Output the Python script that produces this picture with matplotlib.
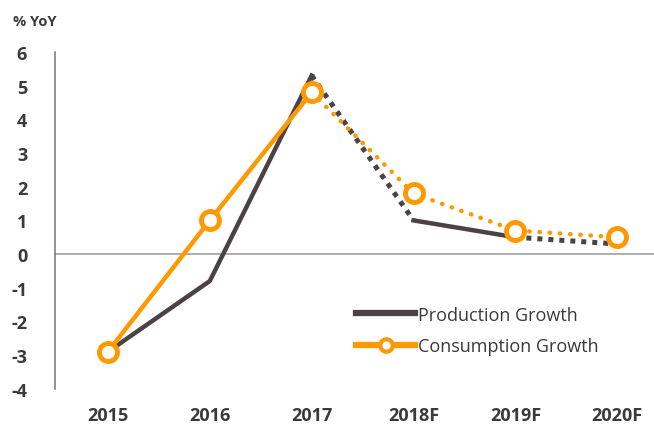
import matplotlib.pyplot as plt
from matplotlib.lines import Line2D

# datos
years = ["2015", "2016", "2017", "2018F", "2019F", "2020F"]
production = [-2.9, -0.8, 5.3, 1.0, 0.5, 0.3]
consumption = [-2.9, 1.0, 4.8, 1.8, 0.7, 0.5]

# tramos (inicio, fin, estilo)
prod_segs = [(0, 2, "solid"), (2, 3, "dotted"), (3, 4, "solid"), (4, 5, "dotted")]
cons_segs = [(0, 2, "solid"), (2, 5, "dotted")]

c_prod = "#4a4244"
c_cons = "#ff9900"
c_text = "#3a3a3a"

plt.rcParams['font.family'] = ['Open Sans', 'DejaVu Sans']
plt.rcParams['axes.unicode_minus'] = False

fig = plt.figure(figsize=(6.54, 4.27), dpi=100)
ax = fig.add_axes([0.084, 0.087, 0.93, 0.789])

x = list(range(len(years)))

ax.axhline(0, color="#a0a0a0", lw=1.2, zorder=1)

for a, b, ls in prod_segs:
    if ls == "dotted":
        ax.plot(x[a:b+1], production[a:b+1], color=c_prod, lw=3.6,
                linestyle=(0, (1, 1.2)), dash_capstyle="butt", zorder=2)
    else:
        ax.plot(x[a:b+1], production[a:b+1], color=c_prod, lw=3.2, zorder=2)

for a, b, ls in cons_segs:
    if ls == "dotted":
        ax.plot(x[a:b+1], consumption[a:b+1], color=c_cons, lw=3.2,
                linestyle=(0, (0.1, 2.2)), dash_capstyle="round", zorder=3)
    else:
        ax.plot(x[a:b+1], consumption[a:b+1], color=c_cons, lw=3.2, zorder=3)

ax.plot(x, consumption, linestyle="none", marker="o", markersize=13,
        markerfacecolor="white", markeredgecolor=c_cons, markeredgewidth=3.5, zorder=4)

ax.set_xlim(-0.52, 5.45)
ax.set_ylim(-4, 6)
ax.set_yticks(range(-4, 7))
ax.set_xticks(x)
ax.set_xticklabels(years)
ax.tick_params(length=0, labelsize=13, colors=c_text)
ax.tick_params(axis="y", pad=20)
ax.tick_params(axis="x", pad=12)
for lab in ax.get_xticklabels() + ax.get_yticklabels():
    lab.set_fontweight("bold")

for s in ["top", "right", "bottom"]:
    ax.spines[s].set_visible(False)
ax.spines["left"].set_color("#808080")
ax.spines["left"].set_linewidth(1.2)

fig.text(0.02, 0.94, "% YoY", fontsize=10.5, color=c_text, fontweight="bold")

handles = [
    Line2D([], [], color=c_prod, lw=4.5),
    Line2D([], [], color=c_cons, lw=4.5, marker="o", markersize=9,
           markerfacecolor="white", markeredgewidth=3),
]
leg = ax.legend(handles, ["Production Growth", "Consumption Growth"],
                loc="lower left", bbox_to_anchor=(0.468, 0.052), frameon=False,
                fontsize=13, handlelength=3.3, handletextpad=0.15, labelspacing=0.75)
for t in leg.get_texts():
    t.set_color(c_text)

fig.savefig("out.png", dpi=100)
